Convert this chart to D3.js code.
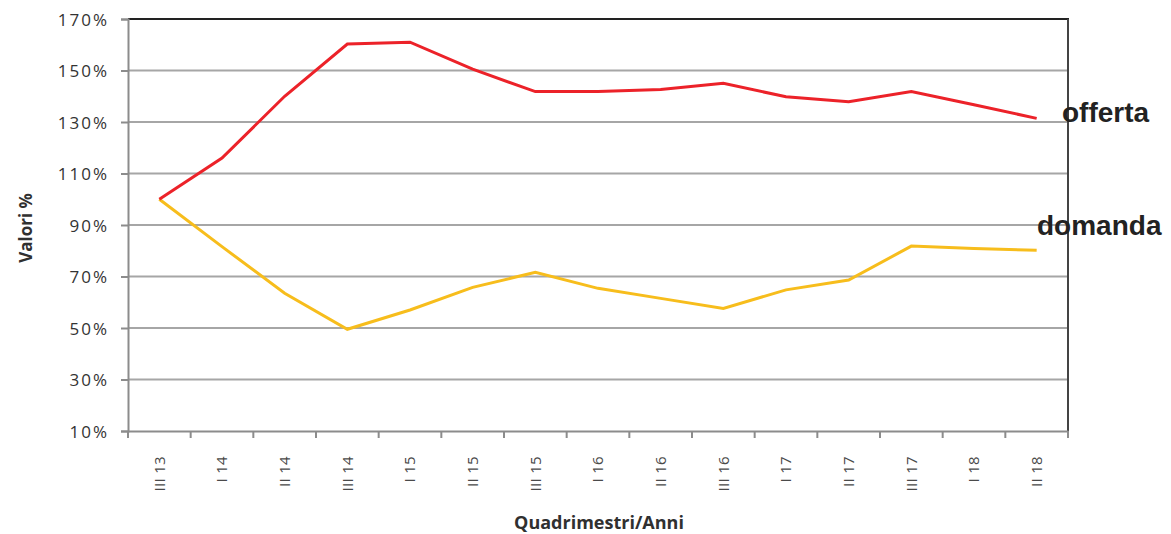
<!DOCTYPE html>
<meta charset="utf-8">
<head>
  <style>
    body { margin: 0; background: #fff; }
    svg { display: block; }
    .ytick text { font-family: "Open Sans", sans-serif; font-size: 17px; fill: #333; letter-spacing: 2px; }
    .xtick text { font-family: "Open Sans", sans-serif; font-size: 15px; fill: #4a4a4a; letter-spacing: 0.3px; }
    .title { font-family: "Open Sans", sans-serif; font-weight: bold; fill: #303030; }
    .serie { font-family: "Liberation Sans", Arial, sans-serif; font-weight: bold; font-size: 28px; fill: #222; }
  </style>
</head>
<body>
<svg id="chart" width="1171" height="534"></svg>
<script src="https://cdnjs.cloudflare.com/ajax/libs/d3/7.8.5/d3.min.js"></script>
<script>

var periodi = ["III 13", "I 14", "II 14", "III 14", "I 15", "II 15", "III 15", "I 16",
               "II 16", "III 16", "I 17", "II 17", "III 17", "I 18", "II 18"];
var offerta = [100, 116, 140, 160.3, 161, 150.5, 141.8, 141.8, 142.6, 145, 139.8, 137.9, 141.8, 136.7, 131.4];
var domanda = [100, 81.6, 63.5, 49.5, 57, 65.8, 71.6, 65.4, 61.5, 57.6, 64.8, 68.6, 81.8, 80.9, 80.2];
var yTicks = [10, 30, 50, 70, 90, 110, 130, 150, 170];

var svg = d3.select("#chart");
var pLeft = 128, pRight = 1068, pTop = 19, pBottom = 431;

var x = d3.scaleBand().domain(periodi).range([pLeft, pRight]).padding(0);
var y = d3.scaleLinear().domain([10, 170]).range([pBottom, pTop]);

// griglia orizzontale
svg.append("g")
  .selectAll("line")
  .data(yTicks.slice(1, -1))
  .enter().append("line")
    .attr("x1", pLeft).attr("x2", pRight)
    .attr("y1", function(d) { return y(d); })
    .attr("y2", function(d) { return y(d); })
    .attr("stroke", "#a6a6a6")
    .attr("stroke-width", 2);

// bordo sopra e a destra
svg.append("line")
  .attr("x1", pLeft).attr("x2", pRight + 1)
  .attr("y1", y(170)).attr("y2", y(170))
  .attr("stroke", "#222").attr("stroke-width", 2);
svg.append("line")
  .attr("x1", pRight).attr("x2", pRight)
  .attr("y1", y(170)).attr("y2", pBottom)
  .attr("stroke", "#444").attr("stroke-width", 2);

// asse y
var yAxis = svg.append("g")
  .attr("class", "ytick")
  .attr("transform", "translate(" + pLeft + ",0)")
  .call(d3.axisLeft(y).tickValues(yTicks).tickSize(7).tickPadding(12)
    .tickFormat(function(d) { return d + "%"; }));
yAxis.select(".domain").attr("stroke", "#8c8c8c").attr("stroke-width", 2);
yAxis.selectAll(".tick line").attr("stroke", "#8c8c8c").attr("stroke-width", 2);
yAxis.selectAll(".tick text").attr("dy", "0.36em");

// asse x
var xAxis = svg.append("g")
  .attr("class", "xtick")
  .attr("transform", "translate(0," + pBottom + ")")
  .call(d3.axisBottom(x).tickSize(0).tickSizeOuter(0));
xAxis.select(".domain").attr("stroke", "#8c8c8c").attr("stroke-width", 2);
xAxis.selectAll(".tick text")
  .attr("transform", "rotate(-90)")
  .attr("text-anchor", "end")
  .attr("x", -25)
  .attr("y", 0)
  .attr("dy", "0.35em");

// tacche dell'asse x ai bordi delle categorie
svg.append("g")
  .selectAll("line")
  .data(periodi.concat(["fine"]))
  .enter().append("line")
    .attr("x1", function(d, i) { return i < periodi.length ? x(d) : pRight; })
    .attr("x2", function(d, i) { return i < periodi.length ? x(d) : pRight; })
    .attr("y1", pBottom).attr("y2", pBottom + 7)
    .attr("stroke", "#8c8c8c").attr("stroke-width", 2);

var line = d3.line()
  .x(function(d, i) { return x(periodi[i]) + x.bandwidth() / 2; })
  .y(function(d) { return y(d); });

svg.append("path")
  .datum(domanda)
  .attr("fill", "none")
  .attr("stroke", "#f7bd1c")
  .attr("stroke-width", 3)
  .attr("d", line);

svg.append("path")
  .datum(offerta)
  .attr("fill", "none")
  .attr("stroke", "#ec2229")
  .attr("stroke-width", 3)
  .attr("d", line);

// etichette delle serie
svg.append("text").attr("class", "serie")
  .attr("x", 1062).attr("y", 122).text("offerta");
svg.append("text").attr("class", "serie")
  .attr("x", 1037).attr("y", 235).text("domanda");

// titoli assi
svg.append("text").attr("class", "title")
  .attr("x", 599).attr("y", 529)
  .attr("text-anchor", "middle")
  .attr("font-size", 18)
  .text("Quadrimestri/Anni");

svg.append("text").attr("class", "title")
  .attr("transform", "translate(32,228) rotate(-90)")
  .attr("text-anchor", "middle")
  .attr("font-size", 17)
  .text("Valori %");

</script>
